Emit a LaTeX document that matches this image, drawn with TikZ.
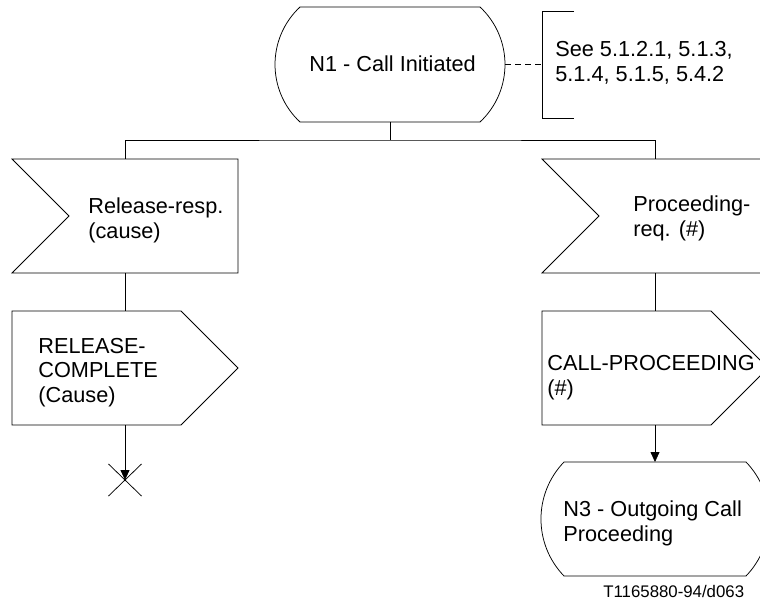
\documentclass[tikz,border=0pt]{standalone}
\usepackage{fontspec}
\setmainfont{Liberation Sans}
\usetikzlibrary{calc,arrows.meta}
\newcommand{\sdlstate}[4]{%
  \draw ($(#1.north west)+(#2,0)$) -- ($(#1.north east)+(-#2,0)$)
    .. controls ($(#1.north east)+(-#2+#3,#4)$) and ($(#1.south east)+(-#2+#3,-#4)$) .. ($(#1.south east)+(-#2,0)$)
    -- ($(#1.south west)+(#2,0)$)
    .. controls ($(#1.south west)+(#2-#3,-#4)$) and ($(#1.north west)+(#2-#3,#4)$) .. cycle;}
\newcommand{\sdlin}[2]{%
  \draw (#1.north west) -- (#1.north east) -- (#1.south east) -- (#1.south west) -- ($(#1.west)+(#2,0)$) -- cycle;}
\newcommand{\sdlout}[2]{%
  \draw (#1.north west) -- ($(#1.north east)+(-#2,0)$) -- (#1.east) -- ($(#1.south east)+(-#2,0)$) -- (#1.south west) -- cycle;}
\begin{document}
\begin{tikzpicture}[x=1bp,y=-1bp,line width=0.75bp,
  box/.style={draw=none,inner sep=0pt,outer sep=0pt},
  txt/.style={anchor=base west,align=left,inner sep=0pt,font=\fontsize{21.7bp}{24.5bp}\selectfont},
  flow/.style={-{Triangle[length=10bp,width=9bp]}}]
\clip (0,0) rectangle (760,607);
\fill[white] (0,0) rectangle (760,607);
% shape frames
\node[box,minimum width=230bp,minimum height=115bp] (n1) at (390,64.5) {};
\node[box,minimum width=32bp,minimum height=107bp] (cmb) at (558,64.5) {};
\node[box,minimum width=226bp,minimum height=114bp] (rr) at (125,216) {};
\node[box,minimum width=226bp,minimum height=114bp] (pr) at (655,216) {};
\node[box,minimum width=226bp,minimum height=114bp] (rc) at (125,368) {};
\node[box,minimum width=226bp,minimum height=114bp] (cp) at (655,368) {};
\node[box,minimum width=228bp,minimum height=114bp] (n3) at (655,519) {};
\coordinate (split) at (390,140);
\coordinate (stop) at (125,480);
% outlines
\sdlstate{n1}{25}{33.3}{31.1}
\sdlstate{n3}{23}{30.7}{31.8}
\sdlin{rr}{57}
\sdlin{pr}{57}
\sdlout{rc}{57}
\sdlout{cp}{57}
\draw (cmb.north east) -- (cmb.north west) -- (cmb.south west) -- (cmb.south east);
% texts (base = baseline of last line)
\node[txt] (n1t) at (309,71.7) {N1 - Call Initiated};
\node[txt] (cmt) at (555,81.5) {See 5.1.2.1, 5.1.3,\\5.1.4, 5.1.5, 5.4.2};
\node[txt] (rrt) at (88,238) {Release-resp.\\(cause)};
\node[txt] (prt) at (633,236.5) {Proceeding-\\req. (\#)};
\node[txt] (rct) at (38,402) {RELEASE-\\COMPLETE\\(Cause)};
\node[txt] (cpt) at (547,395) {CALL-PROCEEDING\\(\#)};
\node[txt] (n3t) at (563,541) {N3 - Outgoing Call\\Proceeding};
\node[anchor=base west,inner sep=0pt,font=\fontsize{16.8bp}{20bp}\selectfont] (ref) at (603,597) {T1165880-94/d063};
% connectors
\draw[dash pattern=on 6bp off 4bp] (n1.east) -- (cmb.west);
\draw (n1.south) -- (split);
\draw (rr.north) |- (split) -| (pr.north);
\draw (rr.south) -- (rc.north);
\draw (pr.south) -- (cp.north);
\draw[flow] (rc.south) -- (stop);
\draw[flow] (cp.south) -- (n3.north);
\draw ($(stop)+(-16.5,-16)$) -- ($(stop)+(16.5,16)$);
\draw ($(stop)+(-16.5,16)$) -- ($(stop)+(16.5,-16)$);
\end{tikzpicture}
\end{document}
